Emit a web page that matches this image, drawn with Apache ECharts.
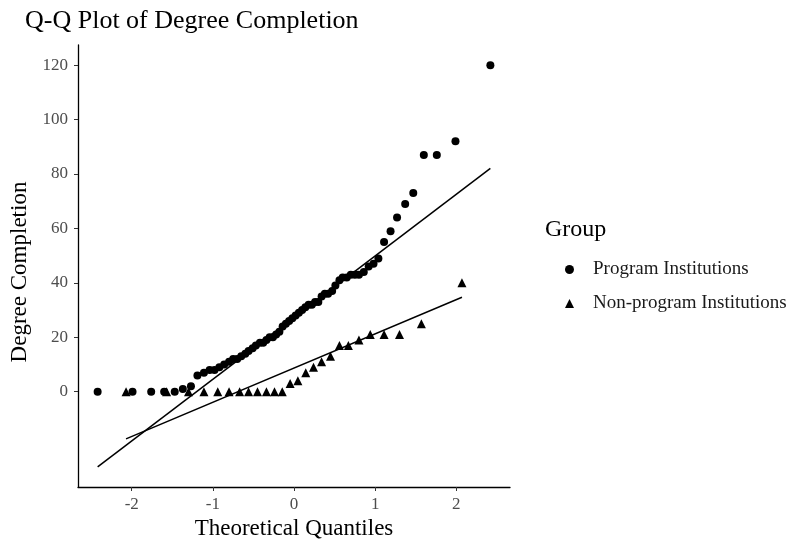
<!DOCTYPE html>
<html>
<head>
<meta charset="utf-8">
<script src="https://cdn.jsdelivr.net/npm/echarts@6/dist/echarts.min.js"></script>
<style>
  html, body { margin: 0; padding: 0; background: #fff; }
  #chart { width: 790px; height: 544px; }
</style>
</head>
<body>
<div id="chart"></div>
<script>
// program institutions: theoretical quantile / degree completion
var progQ = [-2.42, -1.99, -1.76, -1.60, -1.47, -1.37, -1.27, -1.19, -1.11, -1.04,
             -0.98, -0.92, -0.86, -0.80, -0.75, -0.70, -0.65, -0.60, -0.56, -0.51,
             -0.47, -0.42, -0.38, -0.34, -0.30, -0.26, -0.22, -0.18, -0.14, -0.10,
             -0.06, -0.02, 0.02, 0.06, 0.10, 0.14, 0.18, 0.22, 0.26, 0.30,
             0.34, 0.38, 0.42, 0.47, 0.51, 0.56, 0.60, 0.65, 0.70, 0.75,
             0.80, 0.86, 0.92, 0.98, 1.04, 1.11, 1.19, 1.27, 1.37, 1.47,
             1.60, 1.76, 1.99, 2.42]
var progVals = [0, 0, 0, 0, 0, 1, 2, 6, 7, 8,
                8, 9, 10, 11, 12, 12, 13, 14, 15, 16,
                17, 18, 18, 19, 20, 20, 21, 22, 24, 25,
                26, 27, 28, 29, 30, 31, 32, 32, 33, 33,
                35, 36, 36, 37, 39, 41, 42, 42, 43, 43,
                43, 44, 46, 47, 49, 55, 59, 64, 69, 73,
                87, 87, 92, 120]

// non-program institutions
var nonQ = [-2.07, -1.57, -1.30, -1.11, -0.94, -0.80, -0.67, -0.56, -0.45, -0.34,
            -0.24, -0.145, -0.048, 0.048, 0.145, 0.24, 0.34, 0.45, 0.56, 0.67,
            0.80, 0.94, 1.11, 1.30, 1.57, 2.07]
var nonVals = [0, 0, 0, 0, 0, 0, 0, 0, 0, 0,
               0, 0, 3, 4, 7, 9, 11, 13, 17, 17,
               19, 21, 21, 21, 25, 40]

// reference lines (end points)
var progLineQ = [-2.42, 2.42]
var progLineV = [-27.6, 82.1]
var nonLineQ = [-2.07, 2.07]
var nonLineV = [-17.3, 34.7]

var yTicks = [0, 20, 40, 60, 80, 100, 120]
var xTicks = [-2, -1, 0, 1, 2]

function pairs(a, b) {
    return a.map(function (v, i) { return [v, b[i]] })
}

var serif = 'Liberation Serif'
var chart = echarts.init(document.getElementById('chart'), null, {renderer: 'canvas'})

var axisCommon = {
    axisLine: {show: true, onZero: false, lineStyle: {color: '#000', width: 1.3}},
    splitLine: {show: false}
}

option = {
    animation: false,
    backgroundColor: '#fff',
    title: {
        text: 'Q-Q Plot of Degree Completion',
        left: 20,
        top: 3,
        textStyle: {fontFamily: serif, fontSize: 26, fontWeight: 'normal', color: '#000'}
    },
    graphic: [{
        type: 'text',
        left: 545,
        top: 218,
        style: {text: 'Group', fontFamily: serif, fontSize: 24, fill: '#000'}
    }],
    legend: {
        orient: 'vertical',
        left: 560,
        top: 255,
        itemGap: 15,
        itemWidth: 9,
        itemHeight: 9,
        textStyle: {fontFamily: serif, fontSize: 19, color: '#1a1a1a', padding: [0, 0, 0, 14]},
        data: [
            {name: 'Program Institutions', icon: 'circle'},
            {name: 'Non-program Institutions', icon: 'triangle'}
        ]
    },
    grid: {left: 78, right: 280, top: 45, bottom: 57, containLabel: false, outerBoundsMode: 'none'},
    xAxis: Object.assign({}, axisCommon, {
        type: 'value',
        min: -2.662,
        max: 2.662,
        name: 'Theoretical Quantiles',
        nameLocation: 'middle',
        nameGap: 29,
        nameTextStyle: {fontFamily: serif, fontSize: 23, color: '#000'},
        axisTick: {show: true, length: 4, customValues: xTicks, lineStyle: {color: '#333'}},
        axisLabel: {customValues: xTicks, fontFamily: serif, fontSize: 17, color: '#4d4d4d', margin: 9}
    }),
    yAxis: Object.assign({}, axisCommon, {
        type: 'value',
        min: -35,
        max: 127.4,
        name: 'Degree Completion',
        nameLocation: 'middle',
        nameGap: 45,
        nameTextStyle: {fontFamily: serif, fontSize: 23, color: '#000', padding: [0, 12, 0, 0]},
        axisTick: {show: true, length: 4, customValues: yTicks, lineStyle: {color: '#333'}},
        axisLabel: {customValues: yTicks, fontFamily: serif, fontSize: 17, color: '#4d4d4d', margin: 10}
    }),
    series: [
        {
            name: 'Program Institutions',
            type: 'scatter',
            symbol: 'circle',
            symbolSize: 8,
            itemStyle: {color: '#000', opacity: 1},
            data: pairs(progQ, progVals)
        },
        {
            name: 'Non-program Institutions',
            type: 'scatter',
            symbol: 'triangle',
            symbolSize: 9,
            itemStyle: {color: '#000', opacity: 1},
            data: pairs(nonQ, nonVals)
        },
        {
            name: 'progLine',
            type: 'line',
            showSymbol: false,
            silent: true,
            lineStyle: {color: '#000', width: 1.5},
            data: pairs(progLineQ, progLineV)
        },
        {
            name: 'nonLine',
            type: 'line',
            showSymbol: false,
            silent: true,
            lineStyle: {color: '#000', width: 1.5},
            data: pairs(nonLineQ, nonLineV)
        }
    ]
}

chart.setOption(option)
</script>
</body>
</html>
